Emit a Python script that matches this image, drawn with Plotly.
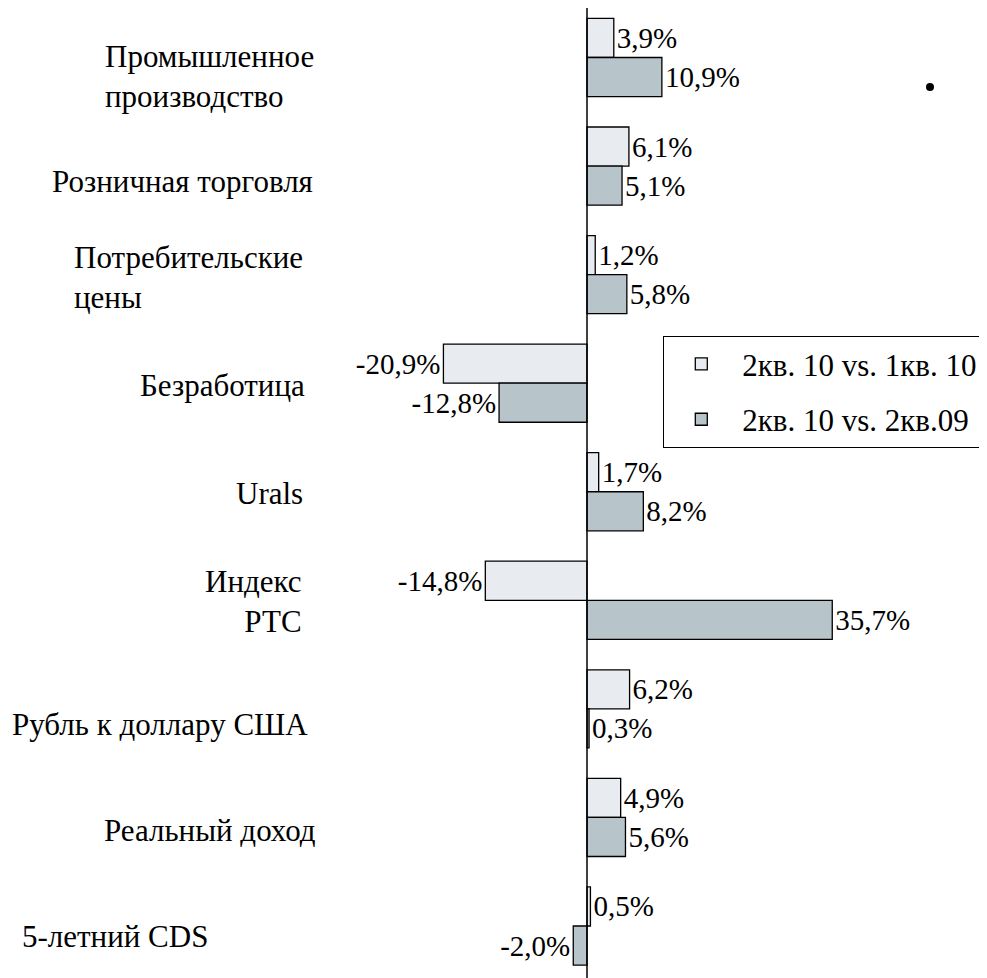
import plotly.graph_objects as go

categories = ["Промышленное<br>производство", "Розничная торговля", "Потребительские<br>цены",
              "Безработица", "Urals", "Индекс<br>РТС", "Рубль к доллару США",
              "Реальный доход", "5-летний CDS"]
series_names = ["2кв. 10 vs. 1кв. 10", "2кв. 10 vs. 2кв.09"]
q_on_q = [3.9, 6.1, 1.2, -20.9, 1.7, -14.8, 6.2, 4.9, 0.5]
y_on_y = [10.9, 5.1, 5.8, -12.8, 8.2, 35.7, 0.3, 5.6, -2.0]

colors = ["#E8EBF0", "#B7C4CA"]
FONT = "Liberation Serif"
OFF = 8                      # page body margin
W, H = 987 - OFF, 978 - OFF
LABEL_SIZE = 31
VALUE_SIZE = 29

def fmt(v):
    return ("%.1f%%" % v).replace(".", ",")

fig = go.Figure()
for name, vals, col in zip(series_names, [q_on_q, y_on_y], colors):
    fig.add_trace(go.Bar(
        y=list(range(len(categories))), x=vals, orientation="h", name=name,
        marker=dict(color=col, line=dict(color="black", width=1.3)),
        text=[fmt(v) for v in vals], textposition="outside",
        textfont=dict(family=FONT, size=VALUE_SIZE, color="black"),
        cliponaxis=False, legendgroup=name,
    ))

# label placement (page pixel anchors): (x_px, anchor, align, y_shift_px)
label_style = [
    (103, "left", "left", -19),
    (50, "left", "left", -15),
    (72, "left", "left", -3),
    (307, "right", "right", -2),
    (305, "right", "right", -2),
    (304, "right", "right", -1),
    (10, "left", "left", -16),
    (318, "right", "right", -13),
    (20, "left", "left", -11),
]
annotations = []
for i, (cat, st) in enumerate(zip(categories, label_style)):
    xp, anc, al, ys = st
    annotations.append(dict(
        x=(xp - OFF) / W, xref="paper", y=i, yref="y", text=cat, showarrow=False,
        xanchor=anc, align=al, yshift=ys,
        font=dict(family=FONT, size=LABEL_SIZE, color="black"),
    ))

px_per_unit = 6.87
zero_px = 587 - OFF
band = 108.56
first_center = 57.5 - OFF
y_top = -first_center / band
y_bot = y_top + H / band

fig.update_layout(
    width=W, height=H,
    font=dict(family=FONT),
    margin=dict(l=0, r=0, t=0, b=0),
    paper_bgcolor="white", plot_bgcolor="white",
    barmode="group", bargap=0.28, bargroupgap=0,
    xaxis=dict(range=[-zero_px / px_per_unit, (W - zero_px) / px_per_unit],
               visible=False, showgrid=False, zeroline=False),
    yaxis=dict(range=[y_bot, y_top], visible=False,
               showgrid=False, zeroline=False),
    showlegend=True,
    legend=dict(x=(663 - OFF) / W, xanchor="left", y=1 - (336 - OFF) / H, yanchor="top",
                bordercolor="black", borderwidth=1.3, bgcolor="white",
                font=dict(family=FONT, size=LABEL_SIZE, color="black"),
                traceorder="grouped", tracegroupgap=12, itemwidth=72,
                indentation=-4),
    annotations=annotations,
    shapes=[
        dict(type="line", xref="x", yref="paper", x0=0, x1=0, y0=0, y1=1,
             line=dict(color="black", width=1.5), layer="above"),
        dict(type="circle", xref="paper", yref="paper",
             x0=(926 - OFF) / W, x1=(934 - OFF) / W,
             y0=1 - (91 - OFF) / H, y1=1 - (83 - OFF) / H,
             fillcolor="black", line=dict(color="black", width=0)),
    ],
)

fig.write_html("out.html")
